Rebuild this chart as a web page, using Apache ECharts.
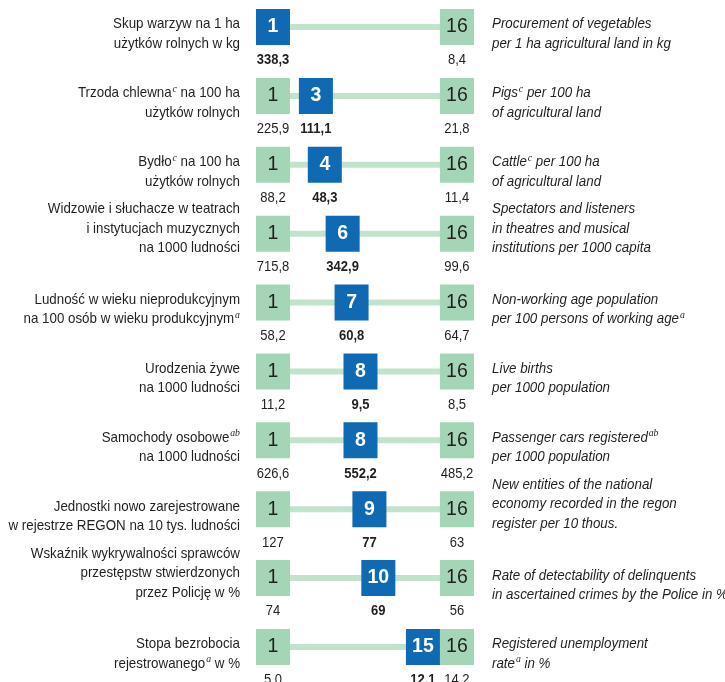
<!DOCTYPE html>
<html>
<head>
<meta charset="utf-8">
<script src="https://cdn.jsdelivr.net/npm/echarts@6/dist/echarts.min.js"></script>
<style>
  html, body { margin: 0; padding: 0; background: #ffffff; }
  #chart { width: 725px; height: 682px; }
</style>
</head>
<body>
<div id="chart"></div>
<script>
// Indicator names (Polish, left column). {s|...} marks a superscript note letter.
const namesPl = [
  ['Skup warzyw na 1 ha', 'użytków rolnych w kg'],
  ['Trzoda chlewna{s|c} na 100 ha', 'użytków rolnych'],
  ['Bydło{s|c} na 100 ha', 'użytków rolnych'],
  ['Widzowie i słuchacze w teatrach', 'i instytucjach muzycznych', 'na 1000 ludności'],
  ['Ludność w wieku nieprodukcyjnym', 'na 100 osób w wieku produkcyjnym{s|a}'],
  ['Urodzenia żywe', 'na 1000 ludności'],
  ['Samochody osobowe{s|ab}', 'na 1000 ludności'],
  ['Jednostki nowo zarejestrowane', 'w rejestrze REGON na 10 tys. ludności'],
  ['Wskaźnik wykrywalności sprawców', 'przestępstw stwierdzonych', 'przez Policję w %'],
  ['Stopa bezrobocia', 'rejestrowanego{s|a} w %']
];

// Indicator names (English, right column)
const namesEn = [
  ['Procurement of vegetables', 'per 1 ha agricultural land in kg'],
  ['Pigs{s|c} per 100 ha', 'of agricultural land'],
  ['Cattle{s|c} per 100 ha', 'of agricultural land'],
  ['Spectators and listeners', 'in theatres and musical', 'institutions per 1000 capita'],
  ['Non-working age population', 'per 100 persons of working age{s|a}'],
  ['Live births', 'per 1000 population'],
  ['Passenger cars registered{s|ab}', 'per 1000 population'],
  ['New entities of the national', 'economy recorded in the regon', 'register per 10 thous.'],
  ['Rate of detectability of delinquents', 'in ascertained crimes by the Police in %'],
  ['Registered unemployment', 'rate{s|a} in %']
];

// Rank of the voivodship among 16 and the values at rank 1, the voivodship, rank 16
const regionRank  = [1, 3, 4, 6, 7, 8, 8, 9, 10, 15];
const firstValue  = ['338,3', '225,9', '88,2', '715,8', '58,2', '11,2', '626,6', '127', '74', '5.0'];
const regionValue = ['338,3', '111,1', '48,3', '342,9', '60,8', '9,5', '552,2', '77', '69', '12.1'];
const lastValue   = ['8,4', '21,8', '11,4', '99,6', '64,7', '8,5', '485,2', '63', '56', '14.2'];
const RANK_FIRST = 1;
const RANK_LAST = 16;

// ---- layout & style ----
const FONT = '"Liberation Sans", Arial, Helvetica, sans-serif';
const SUP_FONT = '"Liberation Serif", "DejaVu Serif", serif';
const NAME_SQUEEZE = 0.89;      // horizontal squeeze for a condensed look
const VALUE_SQUEEZE = 0.84;
const BLUE = '#0f69b3';
const GREEN = '#a4d5b6';
const LINK = '#c1e3cc';
const INK = '#231f20';
const SQ_W = 34, SQ_H = 36;
const X_MAX = RANK_LAST + 1;
const GRID_LEFT = 260.7, GRID_W = 208.5;
const GRID_TOP = 27, GRID_H = 620;
const unitPx = GRID_W / X_MAX;
const sqUnits = SQ_W / unitPx;

// Ranks 2..15 share the gap between the two end squares
function slot(rank) {
  if (rank <= RANK_FIRST) return RANK_FIRST;
  if (rank >= RANK_LAST) return RANK_LAST;
  const inner = (RANK_LAST - RANK_FIRST) - 2 * sqUnits;
  return RANK_FIRST + sqUnits + (rank - RANK_FIRST - 1) * inner / (RANK_LAST - RANK_FIRST - 2);
}

const rows = regionRank.map((_, i) => i);

const endData = [];
rows.forEach(i => {
  if (regionRank[i] !== RANK_FIRST) endData.push([RANK_FIRST, i, RANK_FIRST]);
  if (regionRank[i] !== RANK_LAST) endData.push([RANK_LAST, i, RANK_LAST]);
});
const regionData = rows.map(i => [slot(regionRank[i]), i, regionRank[i]]);

const LINE_H = 19.5;
const textRich = {
  t: { fontFamily: FONT, fontSize: 15, lineHeight: LINE_H, fill: INK },
  s: { fontFamily: SUP_FONT, fontSize: 11, fontStyle: 'italic', lineHeight: LINE_H, verticalAlign: 'top', fill: INK, padding: [0, 0, 0, 1] }
};
const textRichIt = {
  t: Object.assign({}, textRich.t, { fontStyle: 'italic' }),
  s: textRich.s
};

function richLines(lines) {
  return lines.map(l => {
    const parts = l.split(/(\{s\|[^}]*\})/).filter(p => p.length);
    return parts.map(p => p.startsWith('{s|') ? p : '{t|' + p + '}').join('');
  }).join('\n');
}

function blockOffset(n) {
  return n >= 3 ? -5 : 7;
}

const chart = echarts.init(document.getElementById('chart'), null, { renderer: 'canvas' });

chart.setOption({
  animation: false,
  backgroundColor: '#ffffff',
  grid: { left: GRID_LEFT, width: GRID_W, top: GRID_TOP, height: GRID_H },
  xAxis: { type: 'value', min: 0, max: X_MAX, show: false },
  yAxis: { type: 'value', min: 0, max: rows.length - 1, inverse: true, show: false },
  series: [
    {
      // light connector between rank 1 and rank 16
      type: 'custom',
      data: rows.map(i => [RANK_FIRST, i, RANK_LAST]),
      z: 1,
      renderItem: (params, api) => {
        const a = api.coord([api.value(0), api.value(1)]);
        const b = api.coord([api.value(2), api.value(1)]);
        return { type: 'rect', shape: { x: a[0], y: a[1] - 3, width: b[0] - a[0], height: 6 }, style: { fill: LINK } };
      }
    },
    {
      type: 'scatter',
      data: endData,
      z: 2,
      symbol: 'rect',
      symbolSize: [SQ_W, SQ_H],
      itemStyle: { color: GREEN, opacity: 1 },
      label: {
        show: true, position: 'inside', formatter: p => String(p.value[2]),
        fontFamily: FONT, fontSize: 19.5, color: INK
      }
    },
    {
      type: 'scatter',
      data: regionData,
      z: 3,
      symbol: 'rect',
      symbolSize: [SQ_W, SQ_H],
      itemStyle: { color: BLUE, opacity: 1 },
      label: {
        show: true, position: 'inside', formatter: p => String(p.value[2]),
        fontFamily: FONT, fontSize: 19.5, fontWeight: 'bold', color: '#ffffff'
      }
    },
    {
      // values under the squares
      type: 'custom',
      data: rows.map(i => [i]),
      z: 4,
      renderItem: (params, api) => {
        const i = api.value(0);
        const children = [];
        const add = (x, txt, bold) => {
          const p = api.coord([x, i]);
          children.push({
            type: 'text',
            x: p[0], y: p[1] + SQ_H / 2 + 15, scaleX: VALUE_SQUEEZE,
            style: {
              x: 0, y: 0, text: txt, align: 'center', verticalAlign: 'middle',
              font: (bold ? 'bold ' : '') + '15.5px ' + FONT, fill: INK
            }
          });
        };
        if (regionRank[i] !== RANK_FIRST) add(RANK_FIRST, firstValue[i], false);
        add(slot(regionRank[i]), regionValue[i], true);
        if (regionRank[i] !== RANK_LAST) add(RANK_LAST, lastValue[i], false);
        return { type: 'group', children };
      }
    },
    {
      // indicator names, both languages
      type: 'custom',
      data: rows.map(i => [i]),
      z: 4,
      renderItem: (params, api) => {
        const i = api.value(0);
        const p = api.coord([0, i]);
        return {
          type: 'group',
          children: [
            {
              type: 'text',
              x: 240, y: p[1] + blockOffset(namesPl[i].length), scaleX: NAME_SQUEEZE,
              style: { x: 0, y: 0, text: richLines(namesPl[i]), rich: textRich, align: 'right', verticalAlign: 'middle' }
            },
            {
              type: 'text',
              x: 492, y: p[1] + blockOffset(namesEn[i].length), scaleX: NAME_SQUEEZE,
              style: { x: 0, y: 0, text: richLines(namesEn[i]), rich: textRichIt, align: 'left', verticalAlign: 'middle' }
            }
          ]
        };
      }
    }
  ]
});
</script>
</body>
</html>
